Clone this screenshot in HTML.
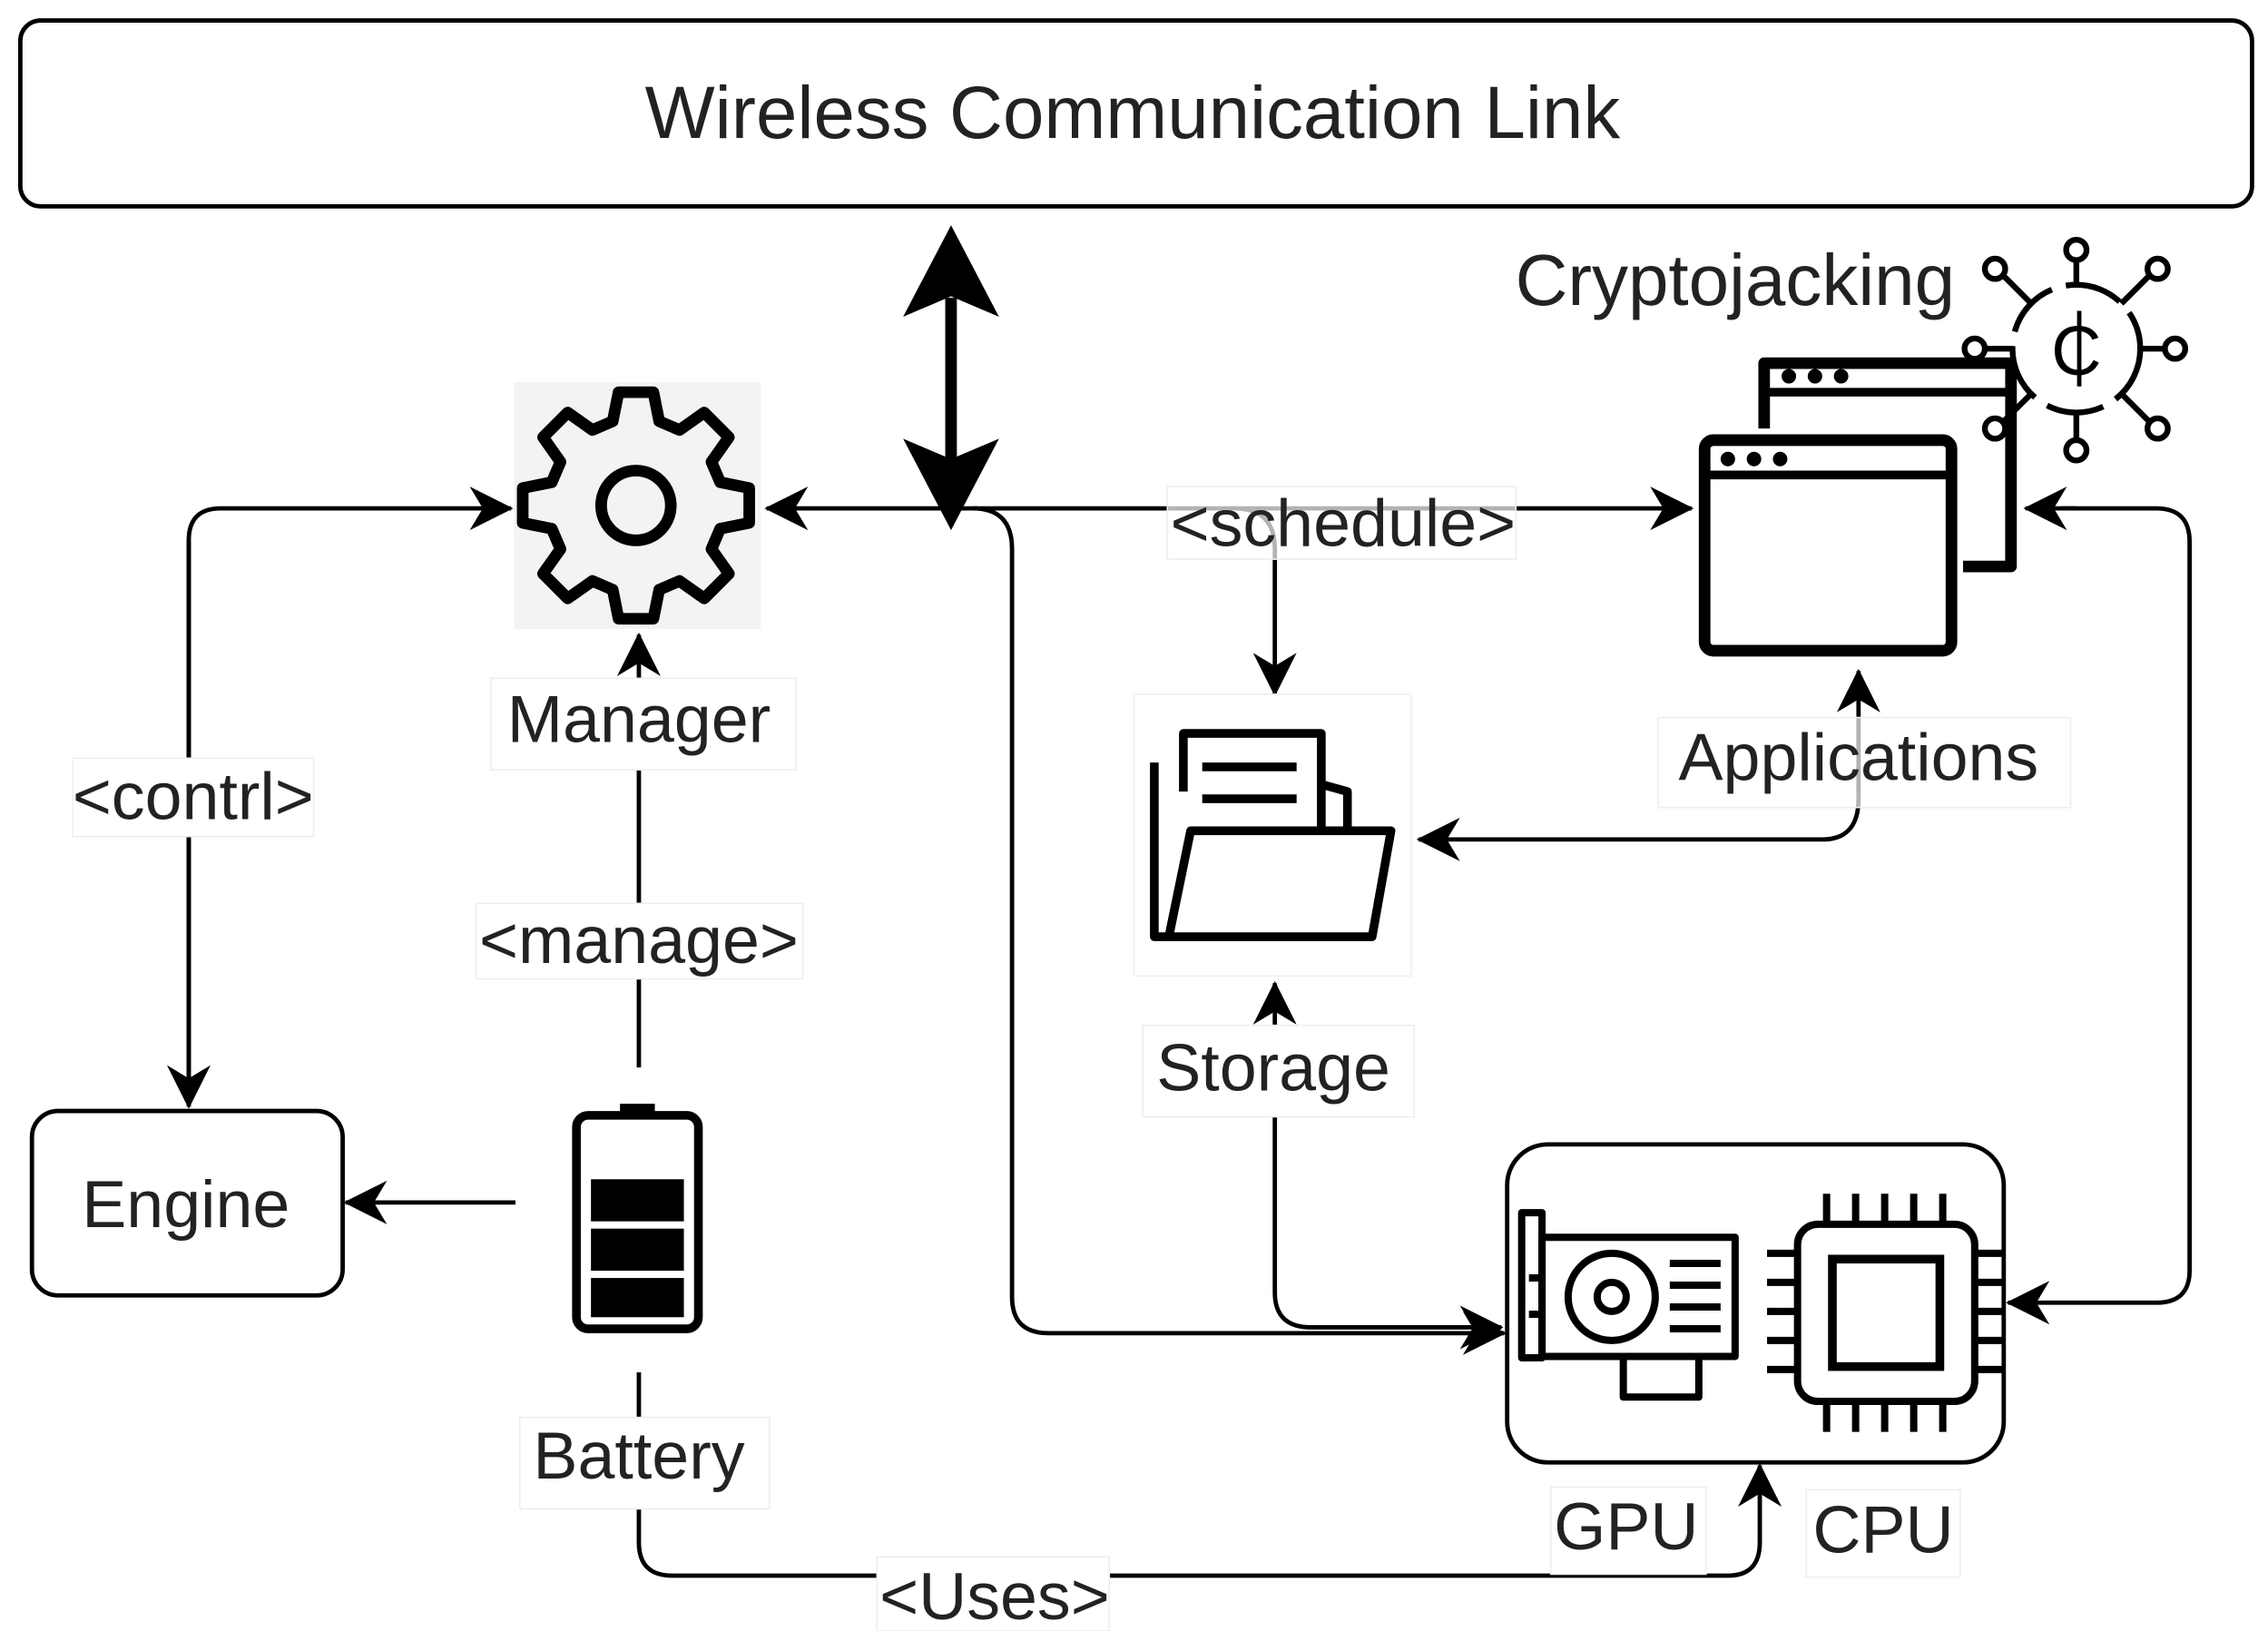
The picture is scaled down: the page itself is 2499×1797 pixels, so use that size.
<!DOCTYPE html>
<html><head><meta charset="utf-8"><style>html,body{margin:0;padding:0;background:#fff}svg{display:block}text{font-family:"Liberation Sans",sans-serif;fill:#222}</style></head>
<body>
<svg width="2499" height="1797" viewBox="0 0 1562 1123" xmlns="http://www.w3.org/2000/svg">
<defs>
<marker id="a" viewBox="0 0 10 10" refX="9.5" refY="5" markerWidth="30" markerHeight="30" markerUnits="userSpaceOnUse" orient="auto-start-reverse"><path d="M0,0 L10,5 L0,10 L3,5z" fill="#000"/></marker>
</defs>
<style>.l{fill:none;stroke:#000;stroke-width:3}.lab{font-size:46px;text-anchor:middle}</style>
<rect x="14" y="14" width="1537" height="128" rx="14" fill="#fff" stroke="#000" stroke-width="3"/>
<text x="780" y="95" font-size="51" text-anchor="middle">Wireless Communication Link</text>

<line x1="655" y1="205" x2="655" y2="320" stroke="#000" stroke-width="8"/>
<path d="M655,155 L688,218 L655,204 L622,218z M655,365 L688,302 L655,316 L622,302z" fill="#000"/>

<path class="l" d="M130,755 L130,372 Q130,350 152,350 L352,350" marker-end="url(#a)"/>
<path class="l" d="M130,372 L130,762" marker-end="url(#a)"/>
<path class="l" d="M1165,350 L528,350" marker-start="url(#a)" marker-end="url(#a)"/>
<path class="l" d="M440,735 L440,437" marker-end="url(#a)"/>
<path class="l" d="M355,828 L238,828" marker-end="url(#a)"/>
<path class="l" d="M670,350 Q697,350 697,378 L697,893 Q697,918 722,918 L1036,918" marker-end="url(#a)"/>
<path class="l" d="M850,350 Q878,350 878,378 L878,478" marker-end="url(#a)"/>
<path class="l" d="M878,890 L878,677" marker-end="url(#a)"/>
<path class="l" d="M878,890 Q878,914 903,914 L1034,914" marker-end="url(#a)"/>
<path class="l" d="M1280,550 Q1280,578 1255,578 L977,578" marker-end="url(#a)"/>
<path class="l" d="M1280,550 L1280,462" marker-end="url(#a)"/>
<path class="l" d="M1430,350 L1395,350" marker-end="url(#a)"/>
<path class="l" d="M1420,350 L1485,350 Q1508,350 1508,373 L1508,875 Q1508,897 1485,897 L1383,897" marker-end="url(#a)"/>
<path class="l" d="M440,945 L440,1062 Q440,1085 463,1085 L1190,1085 Q1212,1085 1212,1062 L1212,1009" marker-end="url(#a)"/>

<rect x="354" y="263" width="170" height="170" fill="#f3f3f3"/>
<g transform="translate(438,348)">
<path fill="none" stroke="#000" stroke-width="8" stroke-linejoin="round" d="M-12,-78 L12,-78 L16,-58 L30,-52 L47,-64 L64,-47 L52,-30 L58,-16 L78,-12 L78,12 L58,16 L52,30 L64,47 L47,64 L30,52 L16,58 L12,78 L-12,78 L-16,58 L-30,52 L-47,64 L-64,47 L-52,30 L-58,16 L-78,12 L-78,-12 L-58,-16 L-52,-30 L-64,-47 L-47,-64 L-30,-52 L-16,-58z"/>
<circle r="24" fill="none" stroke="#000" stroke-width="8"/>
</g>
<rect x="338" y="467" width="210" height="63" fill="#fff" stroke="#eee"/>
<text class="lab" x="440" y="511" font-size="54">Manager</text>
<rect x="328" y="622" width="225" height="52" fill="#fff" stroke="#eee"/>
<text class="lab" x="440" y="663">&lt;manage&gt;</text>
<rect x="50" y="522" width="166" height="54" fill="#fff" stroke="#eee"/>
<text class="lab" x="133" y="564">&lt;contrl&gt;</text>
<rect x="804" y="335" width="240" height="50" fill="#fff" fill-opacity="0.7" stroke="#eee"/>
<text class="lab" x="925" y="376">&lt;schedule&gt;</text>
<rect x="604" y="1072" width="160" height="51" fill="#fff" stroke="#eee"/>
<text class="lab" x="685" y="1115">&lt;Uses&gt;</text>

<rect x="22" y="765" width="214" height="127" rx="18" fill="#fff" stroke="#000" stroke-width="3"/>
<text class="lab" x="128" y="845" font-size="54">Engine</text>

<rect x="427" y="760" width="24" height="10" fill="#000"/>
<rect x="397" y="768" width="84" height="147" rx="8" fill="#fff" stroke="#000" stroke-width="6"/>
<rect x="407" y="812" width="64" height="29" fill="#000"/>
<rect x="407" y="846" width="64" height="29" fill="#000"/>
<rect x="407" y="880" width="64" height="27" fill="#000"/>
<rect x="358" y="976" width="172" height="63" fill="#fff" stroke="#eee"/>
<text class="lab" x="440" y="1018" font-size="54">Battery</text>

<rect x="781" y="478" width="191" height="194" fill="#fff" stroke="#eee"/>
<g fill="none" stroke="#000" stroke-width="6" stroke-linejoin="round">
<path d="M815,545 L815,505 L910,505 L910,570"/>
<path d="M910,540 L928,545 L928,572"/>
<path d="M795,525 L795,645 L945,645 L958,572 L820,572 L805,645"/>
<path d="M828,528 L893,528 M828,550 L893,550" />
</g>
<rect x="787" y="706" width="187" height="63" fill="#fff" stroke="#eee"/>
<text class="lab" x="877" y="751" font-size="54">Storage</text>

<g fill="#fff" stroke="#000" stroke-width="8" stroke-linejoin="round">
<path d="M1215,295 L1215,250 L1385,250 L1385,390 L1352,390"/>
<rect x="1174" y="303" width="170" height="145" rx="6"/>
</g>
<line x1="1215" y1="270" x2="1385" y2="270" stroke="#000" stroke-width="6"/>
<line x1="1174" y1="327" x2="1344" y2="327" stroke="#000" stroke-width="6"/>
<g fill="#000"><circle cx="1232" cy="259" r="5"/><circle cx="1250" cy="259" r="5"/><circle cx="1268" cy="259" r="5"/><circle cx="1190" cy="316" r="5"/><circle cx="1208" cy="316" r="5"/><circle cx="1226" cy="316" r="5"/></g>
<rect x="1142" y="494" width="284" height="62" fill="#fff" fill-opacity="0.7" stroke="#eee"/>
<text class="lab" x="1280" y="537" font-size="52">Applications</text>

<text x="1195" y="210" font-size="50" text-anchor="middle">Cryptojacking</text>
<g fill="none" stroke="#000" stroke-width="4">
<circle cx="1430" cy="240" r="44" stroke-dasharray="40 10"/>
<text x="1430" y="258" font-size="48" text-anchor="middle" style="fill:#000;stroke:none">C</text>
<line x1="1432" y1="214" x2="1432" y2="266" stroke-width="3"/>
<line x1="1430" y1="180" x2="1430" y2="196"/><circle cx="1430" cy="172" r="7"/>
<line x1="1430" y1="284" x2="1430" y2="302"/><circle cx="1430" cy="310" r="7"/>
<line x1="1474" y1="240" x2="1490" y2="240"/><circle cx="1498" cy="240" r="7"/>
<line x1="1386" y1="240" x2="1368" y2="240"/><circle cx="1360" cy="240" r="7"/>
<line x1="1461" y1="209" x2="1480" y2="190"/><circle cx="1486" cy="185" r="7"/>
<line x1="1399" y1="209" x2="1380" y2="190"/><circle cx="1374" cy="185" r="7"/>
<line x1="1461" y1="271" x2="1480" y2="290"/><circle cx="1486" cy="295" r="7"/>
<line x1="1399" y1="271" x2="1380" y2="290"/><circle cx="1374" cy="295" r="7"/>
</g>

<rect x="1038" y="788" width="342" height="219" rx="28" fill="#fff" stroke="#000" stroke-width="3"/>
<g fill="none" stroke="#000" stroke-width="5" stroke-linejoin="round">
<path d="M1048,835 L1062,835 L1062,935 L1048,935z"/>
<rect x="1062" y="852" width="133" height="82"/>
<circle cx="1110" cy="893" r="30"/>
<circle cx="1110" cy="893" r="10"/>
<path d="M1150,870 L1185,870 M1150,885 L1185,885 M1150,900 L1185,900 M1150,915 L1185,915"/>
<path d="M1118,934 L1118,962 L1170,962 L1170,934"/>
<path d="M1062,880 L1053,880 M1062,905 L1053,905"/>
</g>
<g fill="none" stroke="#000" stroke-width="5">
<rect x="1238" y="843" width="122" height="122" rx="14"/>
<rect x="1262" y="867" width="74" height="74" stroke-width="6"/>
<path d="M1258,843 V822 M1278,843 V822 M1298,843 V822 M1318,843 V822 M1338,843 V822
M1258,965 V986 M1278,965 V986 M1298,965 V986 M1318,965 V986 M1338,965 V986
M1238,863 H1217 M1238,883 H1217 M1238,903 H1217 M1238,923 H1217 M1238,943 H1217
M1360,863 H1381 M1360,883 H1381 M1360,903 H1381 M1360,923 H1381 M1360,943 H1381"/>
</g>
<rect x="1068" y="1024" width="107" height="60" fill="#fff" stroke="#eee"/>
<text class="lab" x="1120" y="1067" font-size="52">GPU</text>
<rect x="1244" y="1026" width="106" height="60" fill="#fff" stroke="#eee"/>
<text class="lab" x="1297" y="1069" font-size="52">CPU</text>
</svg>
</body></html>
